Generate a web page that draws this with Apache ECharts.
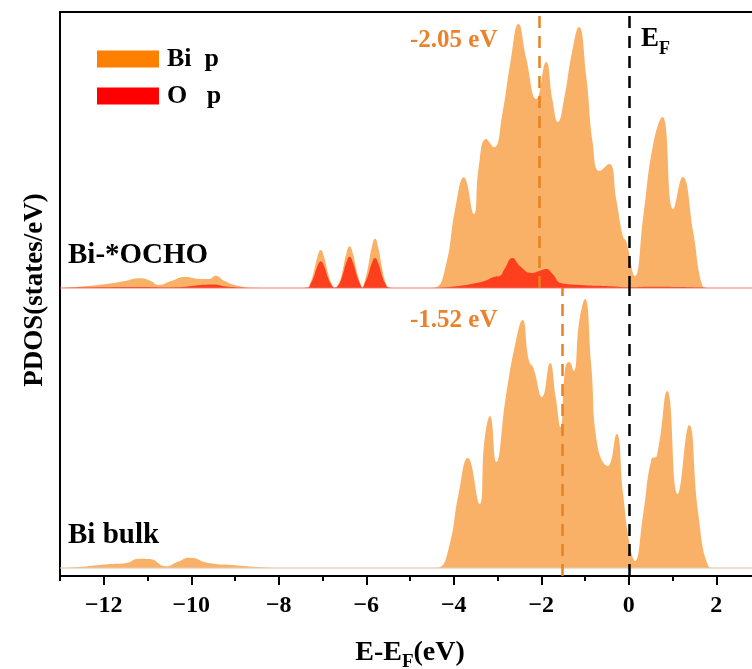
<!DOCTYPE html>
<html>
<head>
<meta charset="utf-8">
<script src="https://cdn.jsdelivr.net/npm/echarts@6/dist/echarts.min.js"></script>
<style>html,body{margin:0;padding:0;background:#fff;}#c{width:752px;height:669px;}</style>
</head>
<body>
<div id="c"></div>
<script>
// Energy axis (E - E_F, eV)
var xTickValues = [-12, -10, -8, -6, -4, -2, 0, 2];
var legendNames = ['Bi  p', 'O   p'];
var panelLabels = ['Bi-*OCHO', 'Bi bulk'];
var dbandCenters = [-2.05, -1.52];
var fermiLevel = 0;

// Bi-*OCHO : Bi p PDOS  [E, states/eV]
var ochoBiP = [
  [-13,0],[-12.55,0.13],[-11.93,0.4],[-11.55,0.67],[-11.17,0.97],[-10.94,0.73],[-10.74,0.3],
  [-10.48,0.67],[-10.13,1.1],[-9.79,0.9],[-9.6,0.9],[-9.44,1.23],[-9.25,0.73],[-8.94,0.23],
  [-8.56,0.03],[-8.2,0],[-7.6,0],
  [-7.34,0.05],[-7.28,0.5],[-7.2,1.6],[-7.12,3.05],[-7.04,3.8],[-6.96,3.05],[-6.88,1.6],[-6.8,0.5],[-6.72,0.03],
  [-6.62,0.55],[-6.54,1.75],[-6.46,3.35],[-6.38,4.17],[-6.3,3.35],[-6.22,1.75],[-6.14,0.55],[-6.09,0.05],
  [-6.04,0.6],[-5.96,2.05],[-5.88,3.95],[-5.8,4.93],[-5.72,3.95],[-5.64,2.05],[-5.56,0.6],[-5.48,0.05],
  [-5.3,0],[-4.6,0],[-4.42,0.05],[-4.19,2.07],[-3.96,8.07],[-3.77,11.07],[-3.54,7.4],
  [-3.43,12.07],[-3.26,14.9],[-3.08,14.07],[-2.89,17.4],[-2.7,22.7],[-2.52,26.4],[-2.35,23.1],
  [-2.11,18.9],[-1.89,22.6],[-1.74,18.7],[-1.62,16.6],[-1.47,19.1],[-1.3,23.5],[-1.14,26.1],
  [-0.97,21.1],[-0.82,14.4],[-0.67,11.7],[-0.45,12.4],[-0.28,8.7],[-0.13,5.1],[-0.06,4.7],
  [0.14,1.2],[0.33,7.1],[0.56,14.4],[0.77,17.1],[1.02,7.9],[1.23,11.1],[1.48,5.4],[1.67,0.4],
  [1.8,0],[2.4,0],[3,0]
];

// Bi-*OCHO : O p PDOS
var ochoOP = [
  [-13,0],[-11.2,0.1],[-10.5,0.05],[-9.5,0.35],[-9.2,0.15],[-8.6,0],[-7.6,0],
  [-7.34,0.03],[-7.28,0.35],[-7.2,1.1],[-7.12,2.15],[-7.04,2.67],[-6.96,2.15],[-6.88,1.1],[-6.8,0.35],[-6.72,0.02],
  [-6.62,0.4],[-6.54,1.3],[-6.46,2.5],[-6.38,3.13],[-6.3,2.5],[-6.22,1.3],[-6.14,0.4],[-6.09,0.03],
  [-6.04,0.4],[-5.96,1.25],[-5.88,2.4],[-5.8,3.0],[-5.72,2.4],[-5.64,1.25],[-5.56,0.4],[-5.48,0.03],
  [-5.3,0],[-4.5,0],[-4.0,0.15],[-3.6,0.4],[-3.3,0.7],[-3.08,1.1],[-2.95,1.2],[-2.84,1.9],
  [-2.66,3.0],[-2.49,2.2],[-2.22,1.5],[-2.05,1.7],[-1.89,1.9],[-1.74,1.4],[-1.55,0.5],
  [-1.1,0.3],[-0.4,0.17],[0,0.07],[0.5,0.13],[1.2,0.1],[1.7,0.03],[2,0],[3,0]
];

// Bi bulk : Bi p PDOS
var bulkBiP = [
  [-13,0],[-12.69,0.05],[-11.92,0.37],[-11.48,0.5],[-11.21,0.93],[-10.95,0.9],[-10.58,0.17],
  [-10.32,0.6],[-10.03,1.03],[-9.61,0.5],[-9.06,0.3],[-8.4,0.07],[-8.0,0],[-6,0],[-4.5,0],
  [-4.34,0.05],[-4.11,2.07],[-3.89,7.4],[-3.68,11.0],[-3.41,6.4],[-3.3,12.7],[-3.17,15.2],
  [-3.03,10.6],[-2.81,17.1],[-2.58,22.7],[-2.43,24.8],[-2.28,20.7],[-2.18,20.0],[-1.98,17.1],
  [-1.8,20.5],[-1.67,17.1],[-1.56,14.1],[-1.45,20.1],[-1.36,20.6],[-1.26,19.7],[-1.13,24.7],
  [-1.0,26.9],[-0.86,20.4],[-0.71,12.1],[-0.48,10.2],[-0.28,13.4],[-0.13,7.4],[0.02,2.4],
  [0.14,0.7],[0.33,5.4],[0.52,10.9],[0.64,11.2],[0.88,17.7],[1.12,7.4],[1.38,14.3],[1.59,5.4],
  [1.82,0.2],[1.95,0],[2.5,0],[3,0]
];

var FONT = '"Liberation Serif", "Times New Roman", serif';
var ORANGE_TXT = '#E9822A';
var chart = echarts.init(document.getElementById('c'), null, {renderer: 'canvas'});

function gridBox(top, height) {
  return {left: 60, width: 700, top: top, height: height, containLabel: false, outerBoundsMode: 'none'};
}
function vline(x, color) {
  return {xAxis: x, lineStyle: {color: color, type: [12, 8], width: 2.5}};
}
var biFill = '#F9B168';
var oFill = 'rgba(255,35,10,0.8)';
var SMOOTH = 0.5;

var option = {
  animation: false,
  backgroundColor: '#fff',
  grid: [gridBox(12, 276), gridBox(288, 288), gridBox(288, 288)],
  xAxis: [
    {gridIndex: 0, type: 'value', min: -13, max: 3, position: 'top',
     axisLine: {show: true, onZero: false, lineStyle: {color: '#000', width: 2}},
     axisTick: {show: false}, axisLabel: {show: false}, splitLine: {show: false}},
    {gridIndex: 1, type: 'value', min: -13, max: 3, interval: 1, position: 'bottom',
     axisLine: {show: true, onZero: false, lineStyle: {color: '#000', width: 2}},
     axisTick: {show: true, customValues: xTickValues, length: 9, lineStyle: {color: '#000', width: 2}},
     axisLabel: {show: true, customValues: xTickValues, margin: 18, color: '#000',
       fontFamily: FONT, fontWeight: 'bold', fontSize: 24,
       formatter: function (v) { return String(v).replace('-', '\u2212'); }},
     splitLine: {show: false},
     name: '{a|E-E}{b|F}{a|(eV)}', nameLocation: 'middle', nameGap: 58,
     nameTextStyle: {rich: {
       a: {fontFamily: FONT, fontWeight: 'bold', fontSize: 28, color: '#000', lineHeight: 38, verticalAlign: 'middle'},
       b: {fontFamily: FONT, fontWeight: 'bold', fontSize: 19, color: '#000', lineHeight: 38, verticalAlign: 'bottom'}
     }}},
    {gridIndex: 2, type: 'value', min: -13, max: 3, interval: 2, position: 'bottom',
     axisLine: {show: false, onZero: false},
     axisTick: {show: true, length: 5, lineStyle: {color: '#000', width: 2}},
     axisLabel: {show: false}, splitLine: {show: false}}
  ],
  yAxis: [
    {gridIndex: 0, type: 'value', min: 0, max: 27.6,
     axisLine: {show: true, onZero: false, lineStyle: {color: '#000', width: 2}},
     axisTick: {show: false}, axisLabel: {show: false}, splitLine: {show: false}},
    {gridIndex: 1, type: 'value', min: -0.8, max: 28,
     axisLine: {show: true, onZero: false, lineStyle: {color: '#000', width: 2}},
     axisTick: {show: false}, axisLabel: {show: false}, splitLine: {show: false}},
    {gridIndex: 2, type: 'value', min: 0, max: 1, show: false}
  ],
  legend: {
    data: [
      {name: legendNames[0], itemStyle: {color: '#FF8000'}},
      {name: legendNames[1], itemStyle: {color: '#FF0000'}}
    ],
    orient: 'vertical', left: 92, top: 41, icon: 'rect',
    itemWidth: 62, itemHeight: 17, itemGap: 11, selectedMode: false,
    textStyle: {fontFamily: FONT, fontWeight: 'bold', fontSize: 26, color: '#000', padding: [0, 0, 0, 3]}
  },
  series: [
    {name: legendNames[0], type: 'line', xAxisIndex: 0, yAxisIndex: 0, data: ochoBiP,
     smooth: SMOOTH, showSymbol: false, silent: true, z: 2,
     itemStyle: {color: '#FF8000'}, lineStyle: {width: 0}, areaStyle: {color: biFill, opacity: 1, origin: 0}},
    {name: legendNames[1], type: 'line', xAxisIndex: 0, yAxisIndex: 0, data: ochoOP,
     smooth: SMOOTH, showSymbol: false, silent: true, z: 3,
     itemStyle: {color: '#FF0000'}, lineStyle: {width: 0}, areaStyle: {color: oFill, opacity: 1, origin: 0},
     markLine: {silent: true, symbol: 'none', label: {show: false}, animation: false,
       data: [
         {yAxis: 0, lineStyle: {color: 'rgba(240,110,100,0.6)', type: 'solid', width: 1.5}},
         vline(dbandCenters[0], '#E8821E'),
         vline(fermiLevel, '#000')
       ]}},
    {name: legendNames[0], type: 'line', xAxisIndex: 1, yAxisIndex: 1, data: bulkBiP,
     smooth: SMOOTH, showSymbol: false, silent: true, z: 2,
     itemStyle: {color: '#FF8000'}, lineStyle: {width: 0}, areaStyle: {color: biFill, opacity: 1, origin: 0},
     markLine: {silent: true, symbol: 'none', label: {show: false}, animation: false,
       data: [
         {yAxis: 0, lineStyle: {color: 'rgba(225,200,170,0.8)', type: 'solid', width: 1.5}},
         vline(dbandCenters[1], '#E8821E'),
         vline(fermiLevel, '#000')
       ]}}
  ],
  graphic: [
    {type: 'text', x: 35, y: 290, rotation: Math.PI / 2,
     style: {text: 'PDOS(states/eV)', fontFamily: FONT, fontWeight: 'bold', fontSize: 27, fill: '#000',
       align: 'center', verticalAlign: 'middle'}},
    {type: 'text', x: 68, y: 256,
     style: {text: panelLabels[0], fontFamily: FONT, fontWeight: 'bold', fontSize: 29, fill: '#000', verticalAlign: 'middle'}},
    {type: 'text', x: 68, y: 536,
     style: {text: panelLabels[1], fontFamily: FONT, fontWeight: 'bold', fontSize: 29, fill: '#000', verticalAlign: 'middle'}},
    {type: 'text', x: 410, y: 41,
     style: {text: dbandCenters[0].toFixed(2) + ' eV', fontFamily: FONT, fontWeight: 'bold', fontSize: 25, fill: ORANGE_TXT, verticalAlign: 'middle'}},
    {type: 'text', x: 410, y: 321,
     style: {text: dbandCenters[1].toFixed(2) + ' eV', fontFamily: FONT, fontWeight: 'bold', fontSize: 25, fill: ORANGE_TXT, verticalAlign: 'middle'}},
    {type: 'text', x: 641, y: 20,
     style: {text: '{a|E}{b|F}', verticalAlign: 'top',
       rich: {
         a: {fontFamily: FONT, fontWeight: 'bold', fontSize: 27, fill: '#000', color: '#000', lineHeight: 38, verticalAlign: 'middle'},
         b: {fontFamily: FONT, fontWeight: 'bold', fontSize: 18, fill: '#000', color: '#000', lineHeight: 38, verticalAlign: 'bottom'}
       }}}
  ]
};
chart.setOption(option);
</script>
</body>
</html>
